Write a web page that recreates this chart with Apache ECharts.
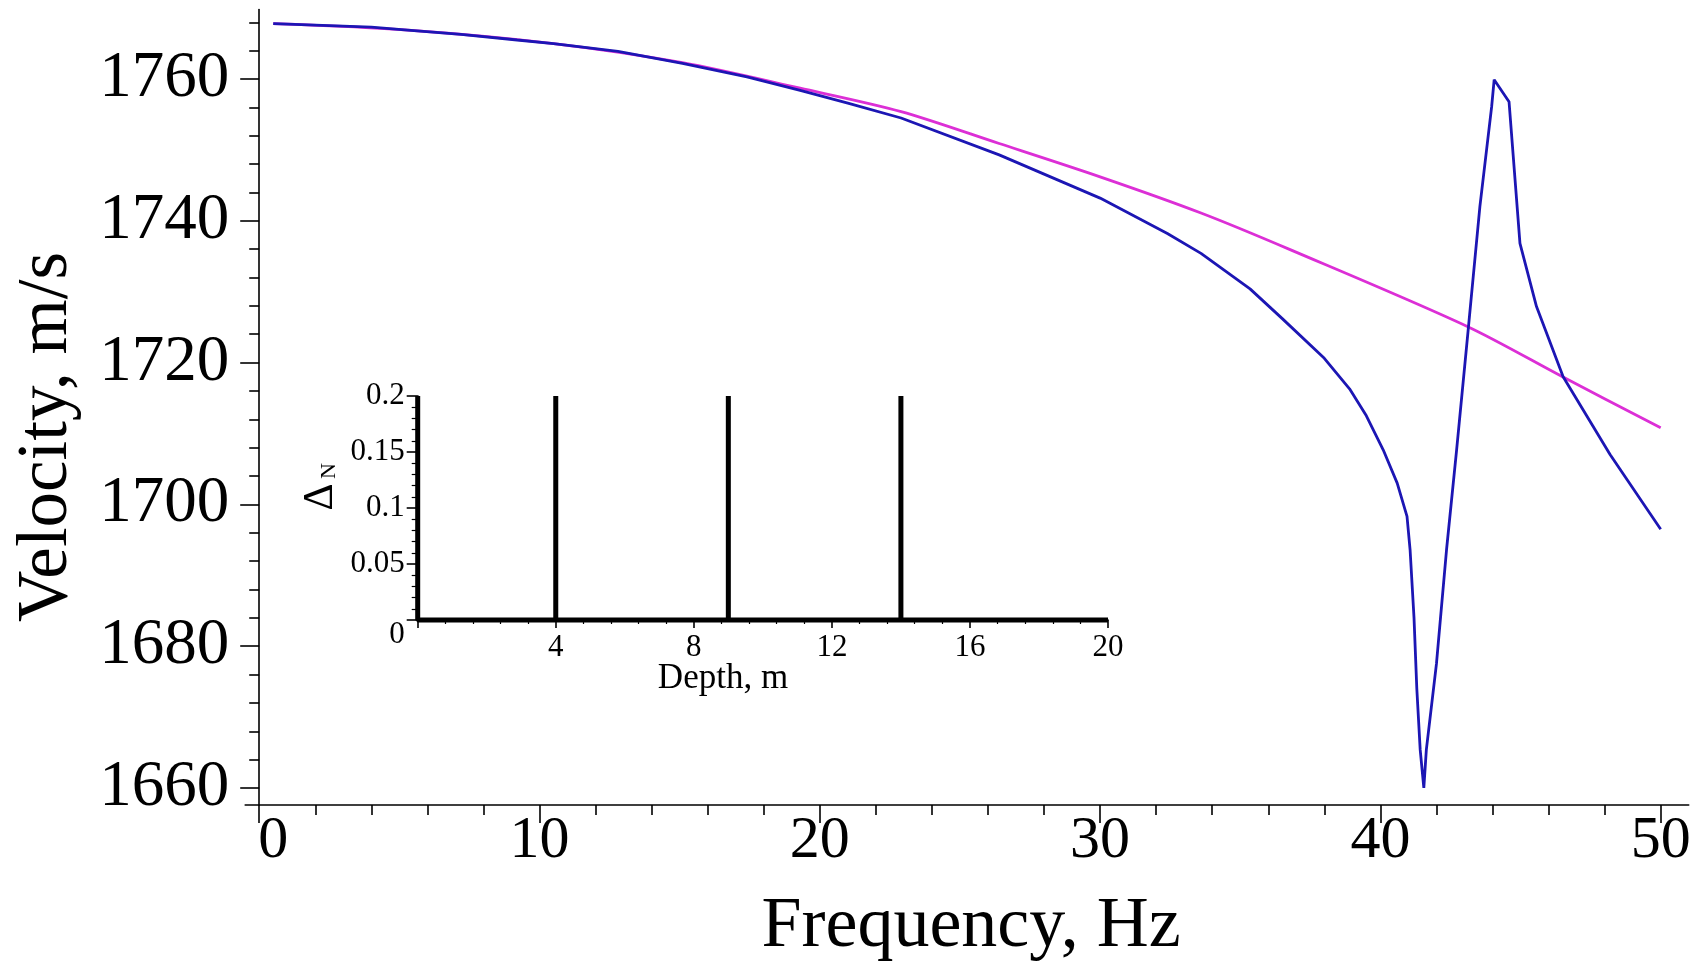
<!DOCTYPE html>
<html>
<head>
<meta charset="utf-8">
<script src="https://cdn.jsdelivr.net/npm/echarts@6/dist/echarts.min.js"></script>
<style>
html,body{margin:0;padding:0;background:#fff;}
#chart{width:1702px;height:965px;}
</style>
</head>
<body>
<div id="chart"></div>
<script>
// ---- Main chart: tick values ----
const freqMajorTicks = [0, 10, 20, 30, 40, 50];
const freqMinorTicks = [2, 4, 6, 8, 12, 14, 16, 18, 22, 24, 26, 28, 32, 34, 36, 38, 42, 44, 46, 48];
const velMajorTicks = [1660, 1680, 1700, 1720, 1740, 1760];
const velMinorTicks = [1664, 1668, 1672, 1676, 1684, 1688, 1692, 1696, 1704, 1708, 1712, 1716,
                       1724, 1728, 1732, 1736, 1744, 1748, 1752, 1756, 1764, 1768];

// ---- Main chart: series (approximate, magenta) ----
const approxFreq = [0.5, 5.3, 10.5, 15.1, 19.3, 22.9, 26.4, 30.0, 33.6, 36.8, 43.1, 46.5, 50.0];
const approxVel  = [1767.8, 1766.9, 1765.0, 1762.3, 1758.7, 1755.4, 1750.9, 1746.2, 1741.1, 1735.9, 1725.1, 1718.0, 1710.8];

// ---- Main chart: series (exact, blue) ----
const exactFreq = [0.5, 2.0, 4.0, 5.3, 7.2, 9.2, 10.5, 12.8, 15.1, 17.4,
                   19.3, 21.0, 22.9, 26.4, 30.0, 32.4, 33.6, 35.35, 36.5, 38.0,
                   38.9, 39.5, 40.1, 40.6, 40.95, 41.06, 41.2, 41.3, 41.42, 41.55,
                   41.64, 42.0, 42.36, 42.72, 43.13, 43.55, 43.97, 44.06, 44.59, 44.98,
                   45.57, 46.52, 48.2, 50.0];
const exactVel  = [1767.8, 1767.6, 1767.3, 1766.9, 1766.3, 1765.5, 1765.0, 1763.9, 1762.2, 1760.3,
                   1758.4, 1756.6, 1754.5, 1749.3, 1743.2, 1738.2, 1735.4, 1730.4, 1726.2, 1720.6,
                   1716.3, 1712.5, 1707.7, 1703.0, 1698.3, 1693.6, 1684.0, 1674.0, 1665.4, 1660.0,
                   1665.4, 1677.5, 1693.6, 1707.7, 1724.5, 1742.0, 1756.1, 1759.9, 1756.8, 1736.8,
                   1727.9, 1718.0, 1707.0, 1696.5];

// ---- Inset: spikes of Delta_N vs depth ----
const spikeDepths = [0, 4, 9, 14];
const spikeHeight = 0.2;
const depthMax = 20;

const FONT = '"Liberation Serif", "Times New Roman", serif';

function zip(xs, ys) { return xs.map((x, i) => [x, ys[i]]); }

// build the inset stepped line from the spike list
const insetData = [];
spikeDepths.forEach((d, i) => {
  if (i === 0) { insetData.push([d, spikeHeight]); insetData.push([d, 0]); }
  else { insetData.push([d, 0]); insetData.push([d, spikeHeight]); insetData.push([d, 0]); }
});
insetData.push([depthMax, 0]);

const chart = echarts.init(document.getElementById('chart'), null, {renderer: 'canvas'});

const axisLineStyle = {color: '#000', width: 1.6};

const option = {
  backgroundColor: '#fff',
  animation: false,
  grid: [
    {left: 245.2, right: 13.3, top: 9.5, bottom: 160, containLabel: false},
    {left: 417.7, right: 594, top: 396, bottom: 345, containLabel: false}
  ],
  xAxis: [
    {
      type: 'value', gridIndex: 0, position: 'bottom', min: -0.5, max: 51,
      axisLine: {show: true, onZero: false, lineStyle: axisLineStyle},
      axisTick: {show: true, inside: false, length: 18, customValues: freqMajorTicks, lineStyle: axisLineStyle},
      axisLabel: {
        show: true, customValues: freqMajorTicks, margin: 6,
        fontFamily: FONT, fontSize: 60, color: '#000',
        formatter: v => (v === 0 ? '{z|0}' : String(v)),
        rich: {z: {fontFamily: FONT, fontSize: 60, color: '#000', padding: [0, 0, 0, 28]}}
      },
      splitLine: {show: false}
    },
    {
      type: 'value', gridIndex: 0, position: 'bottom', offset: 0, min: -0.5, max: 51,
      axisLine: {show: false, onZero: false},
      axisTick: {show: true, inside: false, length: 10, customValues: freqMinorTicks, lineStyle: axisLineStyle},
      axisLabel: {show: false},
      splitLine: {show: false}
    },
    {
      type: 'value', gridIndex: 1, position: 'bottom', min: 0, max: 20, interval: 4,
      axisLine: {show: true, onZero: false, lineStyle: axisLineStyle},
      axisTick: {show: true, inside: false, length: 8, lineStyle: axisLineStyle},
      minorTick: {show: true, splitNumber: 5, length: 4, lineStyle: {color: '#000', width: 1.2}},
      axisLabel: {
        show: true, margin: 12, fontFamily: FONT, fontSize: 31, color: '#000',
        formatter: v => (v === 0 ? '' : String(v))
      },
      splitLine: {show: false}, minorSplitLine: {show: false}
    }
  ],
  yAxis: [
    {
      type: 'value', gridIndex: 0, position: 'left', min: 1657.6, max: 1769.8,
      axisLine: {show: true, onZero: true, lineStyle: axisLineStyle},
      axisTick: {show: true, inside: false, length: 19, customValues: velMajorTicks, lineStyle: axisLineStyle},
      axisLabel: {
        show: true, customValues: velMajorTicks, margin: 16,
        fontFamily: FONT, fontSize: 65, color: '#000',
        formatter: v => String(v)
      },
      splitLine: {show: false}
    },
    {
      type: 'value', gridIndex: 0, position: 'left', offset: 0, min: 1657.6, max: 1769.8,
      axisLine: {show: false, onZero: true},
      axisTick: {show: true, inside: false, length: 10, customValues: velMinorTicks, lineStyle: axisLineStyle},
      axisLabel: {show: false},
      splitLine: {show: false}
    },
    {
      type: 'value', gridIndex: 1, position: 'left', min: 0, max: 0.2, interval: 0.05,
      axisLine: {show: true, onZero: false, lineStyle: axisLineStyle},
      axisTick: {show: true, inside: false, length: 11, lineStyle: axisLineStyle},
      minorTick: {show: true, splitNumber: 5, length: 6, lineStyle: {color: '#000', width: 1.2}},
      axisLabel: {
        show: true, margin: 13, fontFamily: FONT, fontSize: 31, color: '#000',
        formatter: v => (v === 0 ? '{z|0}' : String(parseFloat(v.toFixed(2)))),
        rich: {z: {fontFamily: FONT, fontSize: 31, color: '#000', padding: [30, 0, 0, 0]}}
      },
      splitLine: {show: false}, minorSplitLine: {show: false}
    }
  ],
  series: [
    {
      name: 'approx', type: 'line', xAxisIndex: 0, yAxisIndex: 0,
      data: zip(approxFreq, approxVel), showSymbol: false, smooth: 0.3,
      lineStyle: {color: '#dc2fd6', width: 2.8}, z: 2
    },
    {
      name: 'exact', type: 'line', xAxisIndex: 0, yAxisIndex: 0,
      data: zip(exactFreq, exactVel), showSymbol: false, smooth: false,
      lineStyle: {color: '#1c16b4', width: 2.8}, z: 3
    },
    {
      name: 'delta', type: 'line', xAxisIndex: 2, yAxisIndex: 2,
      data: insetData, showSymbol: false, clip: false,
      lineStyle: {color: '#000', width: 5, join: 'bevel', cap: 'butt'}, z: 4
    }
  ],
  graphic: [
    {type: 'text', x: 971, y: 927, z: 10,
     style: {text: 'Frequency, Hz', font: '72px ' + FONT, fill: '#000', align: 'center', verticalAlign: 'middle'}},
    {type: 'text', x: 47, y: 437, rotation: Math.PI / 2, z: 10,
     style: {text: 'Velocity, m/s', font: '71px ' + FONT, fill: '#000', align: 'center', verticalAlign: 'middle'}},
    {type: 'text', x: 723, y: 679, z: 10,
     style: {text: 'Depth, m', font: '35px ' + FONT, fill: '#000', align: 'center', verticalAlign: 'middle'}},
    {type: 'text', x: 321, y: 497, rotation: Math.PI / 2, z: 10,
     style: {text: 'Δ', font: '42px ' + FONT, fill: '#000', align: 'center', verticalAlign: 'middle'}},
    {type: 'text', x: 329, y: 471, rotation: Math.PI / 2, z: 10,
     style: {text: 'N', font: '22px ' + FONT, fill: '#000', align: 'center', verticalAlign: 'middle'}}
  ]
};

chart.setOption(option);
</script>
</body>
</html>
